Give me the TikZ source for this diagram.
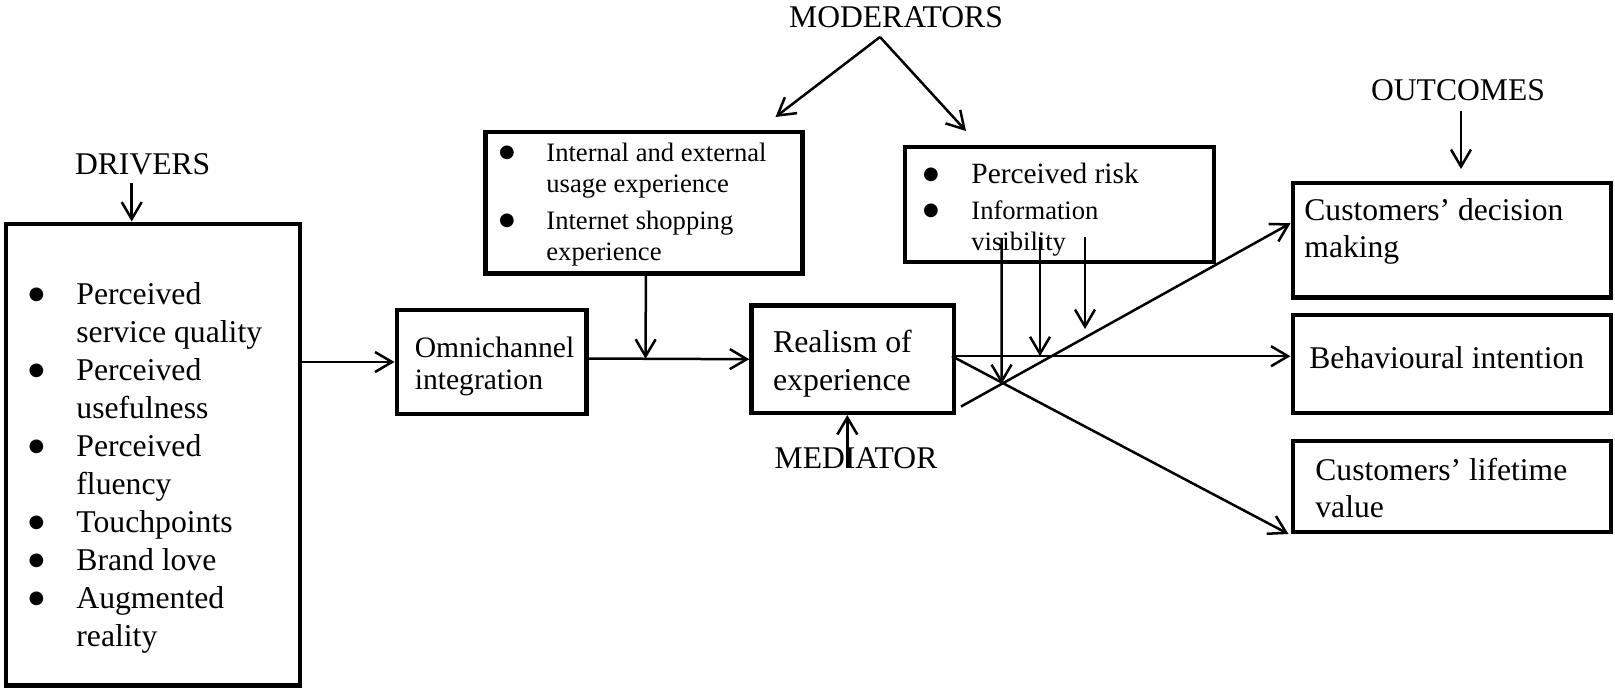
\documentclass[tikz,border=0pt]{standalone}
\usepackage{fontspec}
\setmainfont{Liberation Serif}
\newfontfamily\bulletfont{DejaVu Sans}
\usetikzlibrary{arrows.meta,calc}

% round bullet hanging to the left of the item text: #1 offset, #2 lift
\newcommand\hangbullet[2]{\llap{\makebox[#1][l]{\raisebox{#2}{\bulletfont\fontsize{9}{9}\selectfont ●}}}}

\begin{document}
\begin{tikzpicture}[x=0.5pt,y=-0.5pt,
  box/.style={draw, line width=2.2pt, inner sep=0pt},
  txt/.style={inner sep=0pt, anchor=base west},
  lbl/.style={inner sep=0pt, anchor=base, font=\fontsize{15.8}{19}\selectfont},
  conn/.style={line width=1.25pt, -{Straight Barb[length=8.5pt,width=10pt]}},
]
\useasboundingbox (0,0) rectangle (1615,692);

% ---------- boxes ----------
\node[box, minimum width=146.8pt,  minimum height=230.8pt]  (drivers) at (153,454.5) {};
\node[box, minimum width=94.8pt,   minimum height=51.8pt]   (omni)    at (491.5,362) {};
\node[box, minimum width=101.15pt, minimum height=53.65pt]  (realism) at (852.6,359.2) {};
\node[box, minimum width=158.4pt,  minimum height=70.55pt]  (mod1)    at (643.9,202.75) {};
\node[box, minimum width=154.3pt,  minimum height=57.3pt]   (mod2)    at (1059.5,204.5) {};
\node[box, minimum width=159.05pt, minimum height=57.05pt]  (outA)    at (1451.75,240.25) {};
\node[box, minimum width=159.05pt, minimum height=48.8pt]   (outB)    at (1451.75,364) {};
\node[box, minimum width=159.05pt, minimum height=45.55pt]  (outC)    at (1451.75,486.25) {};

% ---------- box contents ----------
\node[txt, font=\fontsize{15.85}{19.0}\selectfont] (drvlist) at (76,304.5) {%
\begin{tabular}[t]{@{}l@{}}
\hangbullet{23.9pt}{2.6pt}Perceived\\
service quality\\
\hangbullet{23.9pt}{2.6pt}Perceived\\
usefulness\\
\hangbullet{23.9pt}{2.6pt}Perceived\\
fluency\\
\hangbullet{23.9pt}{2.6pt}Touchpoints\\
\hangbullet{23.9pt}{2.6pt}Brand love\\
\hangbullet{23.9pt}{2.6pt}Augmented\\
reality
\end{tabular}};

\node[txt, font=\fontsize{13.3}{15.4}\selectfont] (mod1list) at (546,161.5) {%
\begin{tabular}[t]{@{}l@{}}
\hangbullet{23.65pt}{2pt}Internal and external\\
usage experience\\[3.2pt]
\hangbullet{23.65pt}{2pt}Internet shopping\\
experience
\end{tabular}};

\node[txt, font=\fontsize{13.3}{15.5}\selectfont] (mod2list) at (971,183.7) {%
\begin{tabular}[t]{@{}l@{}}
{\fontsize{14.7}{15.5}\selectfont\hangbullet{24.1pt}{2.2pt}Perceived risk}\\[2.3pt]
\hangbullet{24.1pt}{2pt}Information\\
visibility
\end{tabular}};

\node[txt, font=\fontsize{14.8}{16}\selectfont] (omnitext) at (414.4,357.5) {%
\begin{tabular}[t]{@{}l@{}}Omnichannel\\integration\end{tabular}};

\node[txt, font=\fontsize{15.9}{18.8}\selectfont] (realtext) at (772.7,352.7) {%
\begin{tabular}[t]{@{}l@{}}Realism of\\experience\end{tabular}};

\node[txt, font=\fontsize{15.8}{18.6}\selectfont] (outAtext) at (1304,220.3) {%
\begin{tabular}[t]{@{}l@{}}Customers’ decision\\making\end{tabular}};

\node[txt, font=\fontsize{15.8}{18.5}\selectfont] (outBtext) at (1309,368) {Behavioural intention};

\node[txt, font=\fontsize{15.8}{18.5}\selectfont] (outCtext) at (1315,480) {%
\begin{tabular}[t]{@{}l@{}}Customers’ lifetime\\value\end{tabular}};

% ---------- headings ----------
\node[lbl] (drvlbl) at (142.7,174.5) {DRIVERS};
\node[lbl] (modlbl) at (896,27)      {MODERATORS};
\node[lbl] (outlbl) at (1458,100.7)  {OUTCOMES};
\node[lbl] (medlbl) at (856,468.3)   {MEDIATOR};

% ---------- helper points ----------
\coordinate (drvtop) at ($(drvlbl.base)+(-11,8)$);
\coordinate (apex)   at ($(modlbl.base)+(-16,10)$);
\coordinate (m1end)  at ($(mod1.north east)+(-29,-13)$);
\coordinate (m2end)  at ($(mod2.north west)+(63,-14)$);
\coordinate (outtop) at ($(outlbl.base)+(3,10)$);
\coordinate (medbot) at ($(medlbl.base)+(-8.7,-1.6)$);
\coordinate (oe)     at ($(omni.east)+(0,-3.5)$);
\coordinate (m1foot) at ($(mod1.south)+(2,0)$);
\coordinate (rx)     at ($(realism.east)+(-4,-3)$);
\coordinate (rup)    at ($(realism.south east)+(5,-8.5)$);
\coordinate (upend)  at ($(outA.west)+(0,-17)$);
\coordinate (dnend)  at ($(outC.south west)+(-2,0)$);
\coordinate (a1)     at ($(mod2.south)+(-58,-26)$);
\coordinate (a1d)    at ($(a1)+(0,200)$);
\coordinate (a2)     at ($(mod2.south)+(-19.5,-27)$);
\coordinate (a3)     at ($(mod2.south)+(25.5,-27)$);

% ---------- connectors ----------
\draw[conn] (drvtop) -- (drvtop |- drivers.north);
\draw[conn] (omni.west -| drivers.east) -- (omni.west);
\draw[conn] (oe) -- (realism.west);
\draw[conn] (m1foot) -- ($(oe)!(m1foot)!(realism.west)$);

\draw[conn] (apex) -- (m1end);
\draw[conn] (apex) -- (m2end);

\draw[conn] (outtop) -- ($(outtop |- outA.north)+(0,-12)$);
\draw[conn] (medbot) -- (medbot |- realism.south);

\draw[conn] (rx) -- (rx -| outB.west);
\draw[conn] (rup) -- (upend);
\draw[conn] (rx) -- (dnend);

\draw[conn] (a1) -- (intersection cs: first line={(a1)--(a1d)}, second line={(rup)--(upend)});
\draw[conn] (a2) -- (a2 |- rx);
\draw[conn] (a3) -- ($(a3)+(0,92)$);
\end{tikzpicture}
\end{document}
